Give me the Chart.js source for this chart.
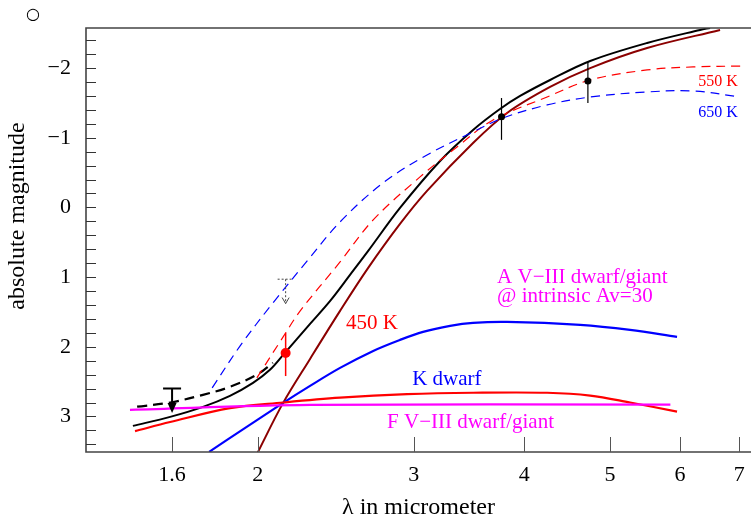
<!DOCTYPE html>
<html>
<head>
<meta charset="utf-8">
<script src="https://cdn.jsdelivr.net/npm/chart.js"></script>
<style>html,body{margin:0;padding:0;background:#fff}canvas{display:block}</style>
</head>
<body>
<canvas id="c" width="751" height="517"></canvas>
<script>
// axis ticks
const xTicks = [1.6, 2, 3, 4, 5, 6, 7];
const yTicks = [-2, -1, 0, 1, 2, 3];

// model curves (lambda in micrometer, absolute magnitude)
const blackX = [1.445, 1.592, 1.734, 1.86, 1.975, 2.064, 2.141, 2.291, 2.414, 2.542, 2.665, 2.895, 3.213, 3.501, 3.755, 3.957, 4.278, 4.748, 5.506, 6.32, 6.486];
const blackY = [3.135, 3.006, 2.862, 2.704, 2.518, 2.331, 2.102, 1.671, 1.341, 0.968, 0.624, 0.007, -0.667, -1.112, -1.413, -1.60, -1.829, -2.102, -2.36, -2.547, -2.575];
const blackDashX = [1.461, 1.592, 1.734, 1.86, 1.995, 2.08];
const blackDashY = [2.86, 2.80, 2.69, 2.575, 2.40, 2.23];
const darkRedX = [1.96, 2.001, 2.136, 2.291, 2.477, 2.665, 2.895, 3.106, 3.501, 3.825, 4.278, 4.748, 5.506, 6.657];
const darkRedY = [3.74, 3.508, 2.805, 2.174, 1.485, 0.868, 0.237, -0.237, -0.925, -1.356, -1.729, -2.0, -2.288, -2.547];
const blueDashX = [1.776, 1.91, 2.08, 2.274, 2.477, 2.77, 3.106, 3.501, 3.785, 4.245, 4.748, 5.506, 6.206, 7.013];
const blueDashY = [2.59, 1.987, 1.37, 0.768, 0.208, -0.351, -0.753, -1.083, -1.284, -1.471, -1.585, -1.657, -1.671, -1.585];
const redDashX = [1.995, 2.136, 2.233, 2.477, 2.70, 3.05, 3.358, 3.688, 4.245, 4.748, 5.506, 6.206, 7.07];
const redDashY = [2.446, 1.858, 1.485, 0.782, 0.179, -0.438, -0.868, -1.255, -1.585, -1.829, -1.973, -2.016, -2.03];
const blueX = [1.762, 1.846, 2.136, 2.291, 2.477, 2.70, 2.895, 3.074, 3.298, 3.501, 3.825, 4.626, 5.268, 5.952];
const blueY = [3.508, 3.336, 2.805, 2.561, 2.303, 2.059, 1.901, 1.786, 1.70, 1.657, 1.643, 1.686, 1.758, 1.858];
const redX = [1.453, 1.592, 1.86, 2.136, 2.477, 2.949, 3.501, 4.245, 4.748, 5.268, 5.952];
const redY = [3.21, 3.08, 2.88, 2.80, 2.73, 2.68, 2.66, 2.66, 2.70, 2.80, 2.93];
const magX = [1.434, 2.291, 5.85];
const magY = [2.905, 2.835, 2.83];

// photometry
const detX = [3.77, 4.72];
const detY = [-1.30, -1.815];
const detLo = [-1.57, -2.09];
const detHi = [-0.97, -1.50];
const ksX = 2.15, ksY = 2.09, ksLo = 1.80, ksHi = 2.42;
const limX = 1.6, limY = 2.60, limTip = 2.95;
const dotLimX = 2.15, dotLimY = 1.03, dotLimTip = 1.38;

// labels placed in data coordinates (left edge, middle)
const notes = [
  {text: '450 K', x: 2.516, y: 1.67, color: '#ff0000', size: 21},
  {text: 'K dwarf', x: 2.988, y: 2.475, color: '#0000ff', size: 21},
  {text: 'F V\u2212III dwarf/giant', x: 2.799, y: 3.08, color: '#ff00ff', size: 21},
  {text: 'A V\u2212III dwarf/giant', x: 3.727, y: 1.0, color: '#ff00ff', size: 21},
  {text: '@ intrinsic Av=30', x: 3.727, y: 1.285, color: '#ff00ff', size: 21},
  {text: '550 K', x: 6.288, y: -1.80, color: '#ff0000', size: 16},
  {text: '650 K', x: 6.288, y: -1.356, color: '#0000ff', size: 16}
];

const FONT = "'Liberation Serif', 'Times New Roman', serif";
const pts = (xs, ys) => xs.map((x, i) => ({x, y: ys[i]}));
function line(label, xs, ys, color, width, dash) {
  return {label, data: pts(xs, ys), borderColor: color, borderWidth: width, borderDash: dash || [],
    pointRadius: 0, showLine: true, fill: false, tension: 0.35};
}

const decor = {
  id: 'decor',
  afterDatasetsDraw(chart) {
    const {ctx, chartArea: a, scales: {x, y}} = chart;
    ctx.save();

    // detections with error bars
    ctx.strokeStyle = '#000'; ctx.fillStyle = '#000'; ctx.lineWidth = 1.2;
    detX.forEach((v, i) => {
      const px = x.getPixelForValue(v);
      ctx.beginPath();
      ctx.moveTo(px, y.getPixelForValue(detLo[i])); ctx.lineTo(px, y.getPixelForValue(detHi[i]));
      ctx.stroke();
      ctx.beginPath(); ctx.arc(px, y.getPixelForValue(detY[i]), 3.5, 0, Math.PI * 2); ctx.fill();
    });

    // Ks point
    let px = x.getPixelForValue(ksX);
    ctx.strokeStyle = '#ff0000'; ctx.fillStyle = '#ff0000'; ctx.lineWidth = 1.5;
    ctx.beginPath(); ctx.moveTo(px, y.getPixelForValue(ksLo)); ctx.lineTo(px, y.getPixelForValue(ksHi)); ctx.stroke();
    ctx.beginPath(); ctx.arc(px, y.getPixelForValue(ksY), 5, 0, Math.PI * 2); ctx.fill();

    // H upper limit
    px = x.getPixelForValue(limX);
    let top = y.getPixelForValue(limY), tip = y.getPixelForValue(limTip);
    ctx.strokeStyle = '#000'; ctx.fillStyle = '#000'; ctx.lineWidth = 2;
    ctx.beginPath(); ctx.moveTo(px - 9, top); ctx.lineTo(px + 9, top); ctx.moveTo(px, top); ctx.lineTo(px, tip - 8); ctx.stroke();
    ctx.beginPath(); ctx.moveTo(px - 4.5, tip - 10); ctx.lineTo(px + 4.5, tip - 10); ctx.lineTo(px, tip); ctx.closePath(); ctx.fill();

    // dotted upper limit
    px = x.getPixelForValue(dotLimX);
    top = y.getPixelForValue(dotLimY); tip = y.getPixelForValue(dotLimTip);
    ctx.strokeStyle = '#444'; ctx.lineWidth = 1; ctx.setLineDash([2, 2]);
    ctx.beginPath(); ctx.moveTo(px - 8, top); ctx.lineTo(px + 8, top); ctx.moveTo(px, top); ctx.lineTo(px, tip); ctx.stroke();
    ctx.setLineDash([]);
    ctx.beginPath(); ctx.moveTo(px - 3.5, tip - 6); ctx.lineTo(px, tip); ctx.lineTo(px + 3.5, tip - 6); ctx.stroke();

    // frame (no right side)
    ctx.strokeStyle = '#444'; ctx.lineWidth = 1.6;
    ctx.beginPath();
    ctx.moveTo(a.right, a.top); ctx.lineTo(a.left, a.top); ctx.lineTo(a.left, a.bottom); ctx.lineTo(a.right, a.bottom);
    ctx.stroke();

    // inside tick marks
    ctx.lineWidth = 1;
    ctx.strokeStyle = '#555';
    xTicks.forEach(v => {
      const p = Math.round(x.getPixelForValue(v)) + 0.5;
      ctx.beginPath(); ctx.moveTo(p, a.bottom); ctx.lineTo(p, a.bottom - 15); ctx.stroke();
    });
    ctx.strokeStyle = '#333';
    for (let k = -12; k <= 17; k++) {
      const p = Math.round(y.getPixelForValue(k * 0.2)) + 0.5;
      ctx.beginPath(); ctx.moveTo(a.left, p); ctx.lineTo(a.left + 10, p); ctx.stroke();
    }

    // tick labels
    ctx.fillStyle = '#000';
    ctx.font = '22px ' + FONT;
    ctx.textAlign = 'center'; ctx.textBaseline = 'alphabetic';
    xTicks.forEach(v => ctx.fillText(String(v), x.getPixelForValue(v), 481));
    ctx.textAlign = 'right'; ctx.textBaseline = 'middle';
    yTicks.forEach(v => ctx.fillText(v < 0 ? '\u2212' + Math.abs(v) : String(v), 71, y.getPixelForValue(v)));

    // axis titles
    ctx.font = '24px ' + FONT;
    ctx.textAlign = 'center'; ctx.textBaseline = 'alphabetic';
    ctx.fillText('\u03bb in micrometer', (a.left + a.right) / 2, 514);
    ctx.save();
    ctx.translate(18, 216); ctx.rotate(-Math.PI / 2);
    ctx.textBaseline = 'middle';
    ctx.fillText('absolute magnitude', 0, 0);
    ctx.restore();

    ctx.font = '16px DejaVu Sans';
    ctx.textAlign = 'center'; ctx.textBaseline = 'middle';
    ctx.fillText('\u25cb', 33, 15);

    // curve labels
    ctx.textAlign = 'left'; ctx.textBaseline = 'middle';
    notes.forEach(n => {
      ctx.font = n.size + 'px ' + FONT;
      ctx.fillStyle = n.color;
      ctx.fillText(n.text, x.getPixelForValue(n.x), y.getPixelForValue(n.y));
    });
    ctx.restore();
  }
};

new Chart(document.getElementById('c'), {
  type: 'scatter',
  data: {
    datasets: [
      line('650 K', blueDashX, blueDashY, '#0000ff', 1.2, [9, 6]),
      line('550 K', redDashX, redDashY, '#ff0000', 1.2, [9, 6]),
      line('F V-III', magX, magY, '#ff00ff', 2.2),
      line('A V-III', redX, redY, '#ff0000', 2.2),
      line('K dwarf', blueX, blueY, '#0000ff', 2.2),
      line('450 K', darkRedX, darkRedY, '#8b0000', 2),
      line('black dashed', blackDashX, blackDashY, '#000000', 2.2, [10, 6]),
      line('black', blackX, blackY, '#000000', 2)
    ]
  },
  options: {
    responsive: false,
    animation: false,
    devicePixelRatio: 1,
    layout: {padding: {top: 28, left: 0, right: 0, bottom: 0}},
    plugins: {legend: {display: false}, tooltip: {enabled: false}},
    scales: {
      x: {
        type: 'logarithmic', min: 1.279, max: 7.215,
        grid: {display: false, drawTicks: false}, border: {display: false},
        ticks: {display: false},
        afterFit(s) { s.height = 65; }
      },
      y: {
        type: 'linear', reverse: true, min: -2.575, max: 3.51,
        grid: {display: false, drawTicks: false}, border: {display: false},
        ticks: {display: false},
        afterFit(s) { s.width = 86; }
      }
    }
  },
  plugins: [decor]
});
</script>
</body>
</html>
